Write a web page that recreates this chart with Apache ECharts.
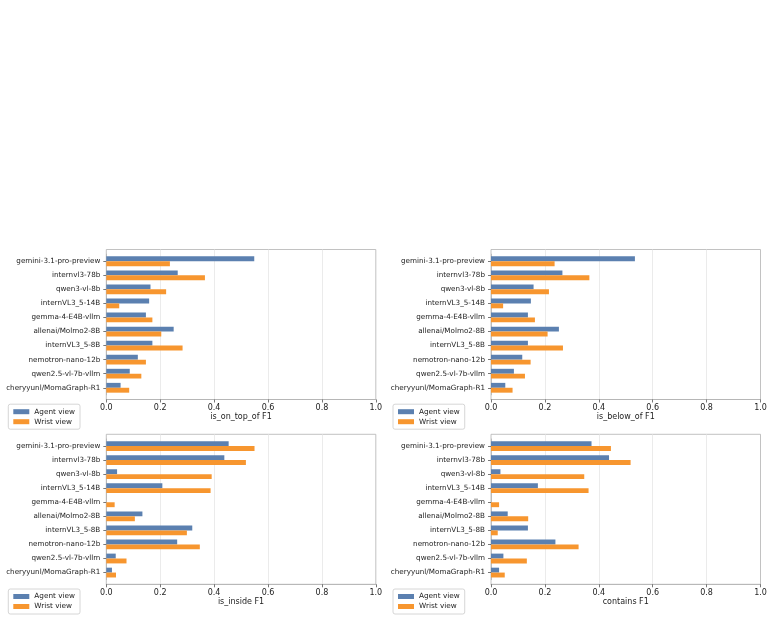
<!DOCTYPE html>
<html>
<head>
<meta charset="utf-8">
<script src="https://cdn.jsdelivr.net/npm/echarts@6/dist/echarts.min.js"></script>
<style>
  html, body { margin: 0; padding: 0; background: #fff; }
  #chart { width: 772px; height: 621px; }
</style>
</head>
<body>
<div id="chart"></div>
<script>
// model names, top to bottom
const models = [
  "gemini-3.1-pro-preview", "internvl3-78b", "qwen3-vl-8b", "internVL3_5-14B",
  "gemma-4-E4B-vllm", "allenai/Molmo2-8B", "internVL3_5-8B", "nemotron-nano-12b",
  "qwen2.5-vl-7b-vllm", "cheryyunl/MomaGraph-R1"
];

const onTopAgent = [0.549, 0.265, 0.164, 0.159, 0.147, 0.250, 0.171, 0.117, 0.087, 0.053];
const onTopWrist = [0.236, 0.366, 0.222, 0.048, 0.171, 0.204, 0.283, 0.147, 0.130, 0.085];

const belowAgent = [0.534, 0.265, 0.158, 0.148, 0.137, 0.252, 0.137, 0.116, 0.085, 0.053];
const belowWrist = [0.236, 0.365, 0.215, 0.045, 0.163, 0.210, 0.267, 0.147, 0.126, 0.080];

const insideAgent = [0.454, 0.438, 0.040, 0.208, 0.000, 0.134, 0.319, 0.263, 0.035, 0.021];
const insideWrist = [0.550, 0.518, 0.391, 0.387, 0.031, 0.106, 0.299, 0.347, 0.075, 0.036];

const containsAgent = [0.373, 0.438, 0.035, 0.174, 0.000, 0.062, 0.137, 0.239, 0.046, 0.030];
const containsWrist = [0.445, 0.518, 0.346, 0.362, 0.030, 0.138, 0.025, 0.325, 0.133, 0.051];

const xTicks = [0, 0.2, 0.4, 0.6, 0.8, 1.0];

const blue = "#5b80b0";
const orange = "#f7962f";
const font = "DejaVu Sans";

const panels = [
  { name: "is_on_top_of F1", agent: onTopAgent, wrist: onTopWrist, x: 106.3, y: 249.5 },
  { name: "is_below_of F1", agent: belowAgent, wrist: belowWrist, x: 491, y: 249.5 },
  { name: "is_inside F1", agent: insideAgent, wrist: insideWrist, x: 106.3, y: 434.3 },
  { name: "contains F1", agent: containsAgent, wrist: containsWrist, x: 491, y: 434.3 }
];

const W = 269.5, H = 150, PAD = 4.7;

let grid = [], xAxis = [], yAxis = [], series = [], legend = [];

panels.forEach(function (p, i) {
  const f = 2 * i, b = 2 * i + 1;
  // frame grid (box, gridlines, x ticks)
  grid.push({ left: p.x, top: p.y, width: W, height: H, show: true,
    borderColor: "#b3b3b3", borderWidth: 0.8, backgroundColor: "transparent" });
  // bar grid (inset like matplotlib margins)
  grid.push({ left: p.x, top: p.y + PAD, width: W, height: H - 2 * PAD });

  xAxis.push({
    gridIndex: f, type: "value", min: xTicks[0], max: xTicks[xTicks.length - 1], interval: 0.2,
    axisLine: { show: true, lineStyle: { color: "#b3b3b3", width: 0.8 } },
    axisTick: { show: true, length: 3, lineStyle: { color: "#555", width: 0.8 } },
    axisLabel: { fontSize: 8, color: "#222", fontFamily: font, margin: 4.5,
      formatter: function (v) { return v.toFixed(1); } },
    splitLine: { show: true, showMinLine: false, showMaxLine: false,
      lineStyle: { color: "#e6e6e6", width: 0.8 } },
    name: p.name, nameLocation: "middle", nameGap: 13,
    nameTextStyle: { fontSize: 8, color: "#222", fontFamily: font }
  });
  yAxis.push({ gridIndex: f, type: "value", show: false });

  xAxis.push({ gridIndex: b, type: "value", min: 0, max: 1, show: false });
  yAxis.push({
    gridIndex: b, type: "category", data: models, inverse: true,
    axisLine: { show: true, lineStyle: { color: "#b3b3b3", width: 0.8 } },
    axisTick: { show: true, alignWithLabel: true, length: 3, lineStyle: { color: "#555", width: 0.8 } },
    axisLabel: { fontSize: 7.2, color: "#222", fontFamily: font, margin: 6 },
    splitLine: { show: false }
  });

  series.push({
    type: "bar", name: "Agent view", xAxisIndex: b, yAxisIndex: b,
    data: p.agent, barWidth: 4.9, barGap: "0%", itemStyle: { color: blue }
  });
  series.push({
    type: "bar", name: "Wrist view", xAxisIndex: b, yAxisIndex: b,
    data: p.wrist, barWidth: 4.9, barGap: "0%", itemStyle: { color: orange }
  });

  legend.push({
    orient: "vertical", left: p.x - 98, top: p.y + 154.7,
    data: ["Agent view", "Wrist view"], icon: "rect",
    itemWidth: 16, itemHeight: 5, itemGap: 1, padding: [3, 5],
    borderColor: "#cccccc", borderWidth: 0.8, borderRadius: 2,
    backgroundColor: "#fff", selectedMode: false,
    textStyle: { fontSize: 7.3, color: "#222", fontFamily: font, lineHeight: 9 }
  });
});

const chart = echarts.init(document.getElementById("chart"));
chart.setOption({
  backgroundColor: "#fff",
  animation: false,
  textStyle: { fontFamily: font },
  grid: grid,
  xAxis: xAxis,
  yAxis: yAxis,
  legend: legend,
  series: series
});
</script>
</body>
</html>
